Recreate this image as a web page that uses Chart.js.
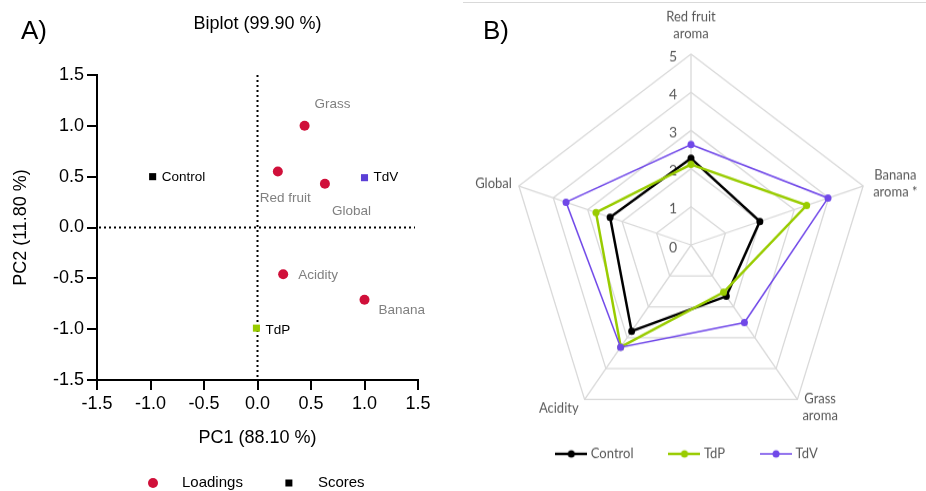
<!DOCTYPE html>
<html>
<head>
<meta charset="utf-8">
<script src="https://cdn.jsdelivr.net/npm/chart.js@4.4.1/dist/chart.umd.min.js"></script>
<style>
  html, body { margin: 0; padding: 0; background: #fff; }
  body { width: 926px; height: 491px; position: relative; overflow: hidden; }
  #biplot { position: absolute; left: 0; top: 0; }
  #radar { position: absolute; left: 460px; top: 0; transform: scaleY(1.055); transform-origin: 50% 245px; }
  .tag { position: absolute; top: 17px; font: 26px/1 "Liberation Sans", Arial, sans-serif; color: #000; }
  #rule { position: absolute; left: 463px; top: 2px; width: 463px; height: 1px; background: #d9d9d9; }
</style>
</head>
<body>
<canvas id="biplot" width="460" height="491"></canvas>
<canvas id="radar" width="466" height="491"></canvas>
<div id="rule"></div>
<div class="tag" style="left:21px">A)</div>
<div class="tag" style="left:483px">B)</div>
<script>
// PCA biplot: loadings (attributes) and scores (samples)
const loadingNames = ['Grass', 'Red fruit', 'Global', 'Acidity', 'Banana'];
const loadingPC1 = [0.44, 0.19, 0.63, 0.24, 1.0];
const loadingPC2 = [1.0, 0.55, 0.43, -0.46, -0.71];
const scoreNames = ['Control', 'TdV', 'TdP'];
const scorePC1 = [-0.98, 1.0, -0.01];
const scorePC2 = [0.5, 0.49, -0.99];
const pcTicks = [-1.5, -1.0, -0.5, 0.0, 0.5, 1.0, 1.5];

// sensory profile (radar)
const attributes = ['Red fruit\naroma', 'Banana\naroma *', 'Grass\naroma', 'Acidity', 'Global'];
const controlScores = [2.27, 2.0, 1.66, 2.79, 2.35];
const tdpScores = [2.11, 3.36, 1.53, 3.3, 2.76];
const tdvScores = [2.63, 3.98, 2.51, 3.31, 3.63];
const radarTicks = [0, 1, 2, 3, 4, 5];

// label placement next to each point (dx, dy in px)
const loadingLabelOffsets = [[10, -22], [-18, 27], [7, 27], [15, 1], [14, 11]];
const scoreLabelOffsets = [[9, 1], [9, 0], [9, 2]];

const SANS = '"Liberation Sans", Arial, sans-serif';

// dotted lines through the origin
const zeroLines = {
  id: 'zeroLines',
  beforeDatasetsDraw(chart) {
    const { ctx, chartArea, scales: { x, y } } = chart;
    const x0 = x.getPixelForValue(0);
    const y0 = y.getPixelForValue(0);
    ctx.save();
    ctx.strokeStyle = '#000';
    ctx.lineWidth = 2;
    ctx.setLineDash([2, 3]);
    ctx.beginPath();
    ctx.moveTo(x0, chartArea.top);
    ctx.lineTo(x0, chartArea.bottom);
    ctx.moveTo(chartArea.left + 2, y0);
    ctx.lineTo(chartArea.right - 3, y0);
    ctx.stroke();
    ctx.restore();
  }
};

// names beside the points
const pointNames = {
  id: 'pointNames',
  afterDatasetsDraw(chart) {
    const { ctx } = chart;
    ctx.save();
    ctx.font = '13.5px ' + SANS;
    ctx.textAlign = 'left';
    ctx.textBaseline = 'middle';
    chart.data.datasets.forEach((ds, di) => {
      const meta = chart.getDatasetMeta(di);
      ctx.fillStyle = ds.nameColor;
      meta.data.forEach((pt, i) => {
        const [dx, dy] = ds.nameOffsets[i];
        ctx.fillText(ds.names[i], pt.x + dx, pt.y + dy);
      });
    });
    ctx.restore();
  }
};

// legend row under the biplot
const biplotLegend = {
  id: 'biplotLegend',
  afterDraw(chart) {
    const { ctx, chartArea } = chart;
    const y = 483;
    let x = chartArea.left + 51;
    ctx.save();
    ctx.font = '15px ' + SANS;
    ctx.textBaseline = 'middle';
    ctx.textAlign = 'left';
    chart.data.datasets.forEach(ds => {
      const color = Array.isArray(ds.backgroundColor) ? ds.backgroundColor[0] : ds.backgroundColor;
      ctx.fillStyle = color;
      if (ds.pointStyle === 'circle') {
        ctx.beginPath();
        ctx.arc(x + 5, y, 5, 0, Math.PI * 2);
        ctx.fill();
      } else {
        ctx.fillRect(x + 1.5, y - 3.5, 7, 7);
      }
      ctx.fillStyle = '#000';
      ctx.fillText(ds.label, x + 34, y);
      x += 34 + ctx.measureText(ds.label).width + 41;
    });
    ctx.restore();
  }
};

function pcAxis(title, isX) {
  return {
    type: 'linear',
    position: isX ? 'bottom' : 'left',
    min: -1.5,
    max: 1.5,
    afterBuildTicks: s => { s.ticks = pcTicks.map(v => ({ value: v })); },
    afterFit: s => { if (isX) s.height = 69; else s.width = 97; },
    border: { display: true, color: '#000', width: 2 },
    grid: { drawOnChartArea: false, drawTicks: true, tickLength: 10, color: '#000', lineWidth: 2 },
    ticks: {
      color: '#000',
      padding: 3,
      font: { family: SANS, size: 18 },
      callback: v => v.toFixed(1)
    },
    title: {
      display: true,
      text: title,
      color: '#000',
      font: { family: SANS, size: 18 },
      padding: isX ? { top: 0, bottom: 0 } : { top: 10, bottom: 0 }
    }
  };
}

new Chart(document.getElementById('biplot'), {
  type: 'scatter',
  data: {
    datasets: [
      {
        label: 'Loadings',
        data: loadingPC1.map((x, i) => ({ x, y: loadingPC2[i] })),
        names: loadingNames,
        nameOffsets: loadingLabelOffsets,
        nameColor: '#808080',
        pointStyle: 'circle',
        pointRadius: 5,
        borderWidth: 0,
        backgroundColor: '#d0103a'
      },
      {
        label: 'Scores',
        data: scorePC1.map((x, i) => ({ x, y: scorePC2[i] })),
        names: scoreNames,
        nameOffsets: scoreLabelOffsets,
        nameColor: '#000',
        pointStyle: 'rect',
        pointRadius: 5,
        borderWidth: 0,
        backgroundColor: ['#000000', '#5b3fd6', '#99cc00']
      }
    ]
  },
  options: {
    responsive: false,
    animation: false,
    events: [],
    layout: { padding: { top: 0, left: 0, right: 42, bottom: 42 } },
    plugins: {
      legend: { display: false },
      tooltip: { enabled: false },
      title: {
        display: true,
        fullSize: false,
        text: 'Biplot (99.90 %)',
        color: '#000',
        font: { family: SANS, size: 18, weight: 'normal' },
        padding: { top: 13, bottom: 40.4 }
      }
    },
    scales: {
      x: pcAxis('PC1 (88.10 %)', true),
      y: pcAxis('PC2 (11.80 %)', false)
    }
  },
  plugins: [zeroLines, pointNames, biplotLegend]
});

// ---------- radar ----------
const LATO = 'Lato, "Open Sans", sans-serif';
const GREY = '#595959';

// small line-with-dot swatch for the legend
function swatch(color, width) {
  const c = document.createElement('canvas');
  c.width = 32;
  c.height = 10;
  const g = c.getContext('2d');
  g.strokeStyle = color;
  g.lineWidth = width;
  g.beginPath();
  g.moveTo(0, 5);
  g.lineTo(32, 5);
  g.stroke();
  g.fillStyle = color;
  g.beginPath();
  g.arc(16, 5, 3.5, 0, Math.PI * 2);
  g.fill();
  return c;
}

// 0..5 values up the first spoke
const radarTickLabels = {
  id: 'radarTickLabels',
  beforeDatasetsDraw(chart) {
    const { ctx } = chart;
    const r = chart.scales.r;
    ctx.save();
    ctx.font = '14px ' + LATO;
    ctx.fillStyle = GREY;
    ctx.textAlign = 'center';
    ctx.textBaseline = 'middle';
    radarTicks.forEach(v => {
      const p = r.getPointPosition(0, r.getDistanceFromCenterForValue(v));
      ctx.fillText(String(v), r.xCenter - 18, p.y + 2);
    });
    ctx.restore();
  }
};

// attribute names around the web
const radarPointLabels = {
  id: 'radarPointLabels',
  afterDraw(chart) {
    const { ctx } = chart;
    const r = chart.scales.r;
    const lh = 16;
    ctx.save();
    ctx.font = '13px ' + LATO;
    ctx.fillStyle = GREY;
    ctx.textAlign = 'center';
    ctx.textBaseline = 'middle';
    chart.data.labels.forEach((label, i) => {
      const lines = label.split('\n');
      const w = Math.max(...lines.map(s => ctx.measureText(s).width));
      const p = r.getPointPosition(i, r.drawingArea);
      let cx, y0;
      if (Math.abs(p.x - r.xCenter) < 1) {
        cx = p.x;
        y0 = p.y - 19 - (lines.length - 1) * lh;
      } else if (p.y < r.yCenter) {
        cx = p.x > r.xCenter ? p.x + 10 + w / 2 : p.x - 7 - w / 2;
        y0 = p.y - 2 - (lines.length - 1) * lh / 2;
      } else {
        cx = p.x > r.xCenter ? p.x + 5 + w / 2 : p.x - 6 - w / 2;
        y0 = p.x > r.xCenter ? p.y - 0.5 : p.y + 8;
      }
      lines.forEach((s, k) => ctx.fillText(s, cx, y0 + k * lh));
    });
    ctx.restore();
  }
};

function series(label, values, color, width, order) {
  return {
    label,
    data: values,
    order,
    borderColor: color,
    borderWidth: width,
    backgroundColor: color,
    pointBackgroundColor: color,
    pointBorderColor: color,
    pointBorderWidth: 0,
    pointRadius: 3.5,
    fill: false,
    legendSwatch: swatch(color, width)
  };
}

new Chart(document.getElementById('radar'), {
  type: 'radar',
  data: {
    labels: attributes,
    datasets: [
      series('Control', controlScores, '#000000', 2.5, 3),
      series('TdP', tdpScores, '#99cc00', 2.5, 2),
      series('TdV', tdvScores, '#7048e8', 1.5, 1)
    ]
  },
  options: {
    responsive: false,
    animation: false,
    events: [],
    layout: { padding: { top: 0, left: 0, right: 10, bottom: 31.5 } },
    plugins: {
      tooltip: { enabled: false },
      legend: {
        position: 'bottom',
        labels: {
          usePointStyle: true,
          pointStyleWidth: 26,
          padding: 38,
          color: GREY,
          font: { family: LATO, size: 13 },
          generateLabels: chart => chart.data.datasets.map((ds, i) => ({
            text: ds.label,
            pointStyle: ds.legendSwatch,
            fillStyle: ds.borderColor,
            strokeStyle: ds.borderColor,
            fontColor: GREY,
            lineWidth: 0,
            hidden: false,
            datasetIndex: i
          }))
        }
      }
    },
    scales: {
      r: {
        min: 0,
        max: 5,
        afterFit: s => { s.xCenter = 231; s.yCenter = 245; s.drawingArea = 181; },
        ticks: { stepSize: 1, display: false },
        grid: { color: '#d9d9d9', lineWidth: 1.3 },
        angleLines: { color: '#d9d9d9', lineWidth: 1.3 },
        pointLabels: { display: false }
      }
    }
  },
  plugins: [radarTickLabels, radarPointLabels]
});
</script>
</body>
</html>
